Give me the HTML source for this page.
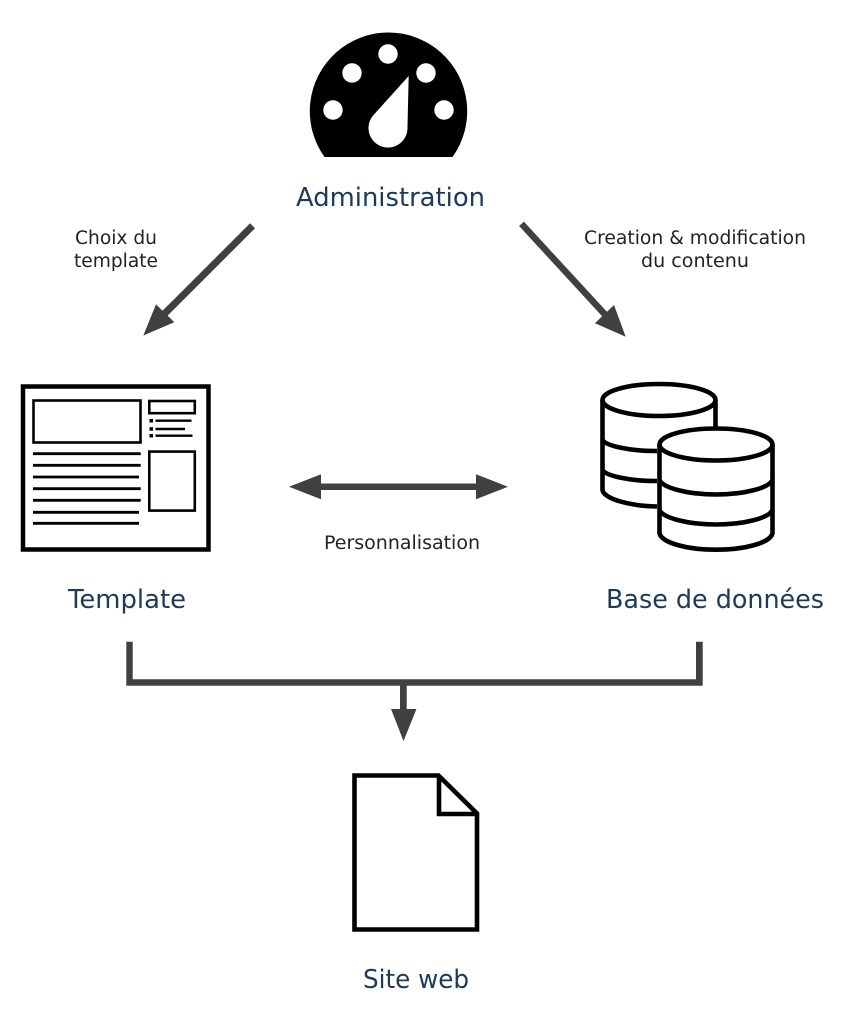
<!DOCTYPE html>
<html lang="fr">
<head>
<meta charset="utf-8">
<title>Diagramme CMS</title>
<style>
html,body{margin:0;padding:0;background:#fff;}
svg{display:block;}
text{font-family:"DejaVu Sans","Liberation Sans",sans-serif;}
.t{font-size:26px;fill:#1b3a5e;}
.s{font-size:18.2px;fill:#222;}
</style>
</head>
<body>
<svg width="858" height="1026" viewBox="0 0 858 1026" xmlns="http://www.w3.org/2000/svg">
<rect width="858" height="1026" fill="#fff"/>

<!-- Gauge -->
<path d="M324.5 157 A78.7 78.7 0 1 1 452.5 157 Z" fill="#000"/>
<g fill="#fff">
<circle cx="388" cy="54" r="9.7"/>
<circle cx="352" cy="73" r="9.7"/>
<circle cx="426" cy="73" r="9.7"/>
<circle cx="333" cy="110" r="9.7"/>
<circle cx="444" cy="110" r="9.7"/>
<path d="M408.7 76 L407.4 130 A19.5 19.5 0 1 1 373.5 115 Z"/>
</g>

<!-- Template icon -->
<g fill="none" stroke="#000">
<rect x="23" y="386.5" width="185.5" height="163" stroke-width="4.5"/>
<rect x="33.5" y="400.5" width="107" height="42" stroke-width="2.6"/>
<rect x="149.3" y="401" width="45.5" height="12.2" stroke-width="2.6"/>
<rect x="149.3" y="451.6" width="45.5" height="59" stroke-width="2.6"/>
<g stroke-width="2.8">
<path d="M33 453.7H140.7M33 465.3H140.7M33 477H139M33 488.7H140.7M33 500.3H140.7M33 512.3H139M33 523.3H139"/>
</g>
<g stroke-width="2.4">
<path d="M155.5 420.7H191.5M155.5 429H185M155.5 435.7H192.5"/>
</g>
</g>
<g fill="#000">
<rect x="149.5" y="419" width="3.5" height="3.5"/>
<rect x="149.5" y="427.2" width="3.5" height="3.5"/>
<rect x="149.5" y="434" width="3.5" height="3.5"/>
</g>

<!-- Database icon -->
<g fill="none" stroke="#000" stroke-width="4.6">
<ellipse cx="659" cy="400" rx="56.5" ry="16"/>
<path d="M715.5 400V428"/>
<path d="M602.5 400V490C604 499 630 506 657 506.5"/>
<path d="M602.5 440C606 446 630 451 657 451"/>
<path d="M602.5 470C606 476 630 481 657 481"/>
<ellipse cx="716" cy="444.5" rx="56.5" ry="16" fill="#fff"/>
<path d="M659.5 444.5V533C661 543 688 549.7 716 549.7C744 549.7 771 543 772.5 533V444.5"/>
<path d="M659.5 480C663 488 688 494.5 716 494.5C744 494.5 769 488 772.5 480"/>
<path d="M659.5 510C663 518 688 524.5 716 524.5C744 524.5 769 518 772.5 510"/>
</g>

<!-- Document icon -->
<g fill="none" stroke="#000" stroke-width="4.6" stroke-linejoin="miter">
<path d="M354.5 775.5H438.5L477 813.5V929.5H354.5Z"/>
<path d="M439 775.5V814H477"/>
</g>

<!-- Arrows -->
<g fill="#404040" stroke="none">
<!-- left diagonal -->
<path d="M250 223.3L255 228.3L167.65 315.65L174.3 322.3L143.3 335.5L156 304.3L162.5 310.8Z"/>
<!-- right diagonal -->
<path d="M519.1 226L523.9 221.6L606.9 311.8L614 305L625.7 336.7L595 323.3L602.1 316.2Z"/>
<!-- double -->
<path d="M289 486.7L321 474.3V483.5H476V474.3L508 486.7L476 499.3V490H321V499.3Z"/>
<!-- bottom connector -->
<path d="M126.3 641.7H132.7V679.3H696V641.7H702.7V685.7H406.7V709H416.5L403.5 741L391 709H400V685.7H126.3Z"/>
</g>

<!-- Labels -->
<text class="t" x="296" y="206" textLength="189" lengthAdjust="spacingAndGlyphs">Administration</text>
<text class="s" x="75" y="244" textLength="82" lengthAdjust="spacingAndGlyphs">Choix du</text>
<text class="s" x="74" y="267" textLength="84" lengthAdjust="spacingAndGlyphs">template</text>
<text class="s" x="584" y="244" textLength="222" lengthAdjust="spacingAndGlyphs">Creation &amp; modification</text>
<text class="s" x="641" y="267" textLength="108" lengthAdjust="spacingAndGlyphs">du contenu</text>
<text class="s" x="324" y="549" textLength="156" lengthAdjust="spacingAndGlyphs">Personnalisation</text>
<text class="t" x="68" y="608" textLength="118" lengthAdjust="spacingAndGlyphs">Template</text>
<text class="t" x="606" y="608" textLength="218" lengthAdjust="spacingAndGlyphs">Base de données</text>
<text class="t" x="363" y="988" textLength="106" lengthAdjust="spacingAndGlyphs">Site web</text>
</svg>
</body>
</html>
